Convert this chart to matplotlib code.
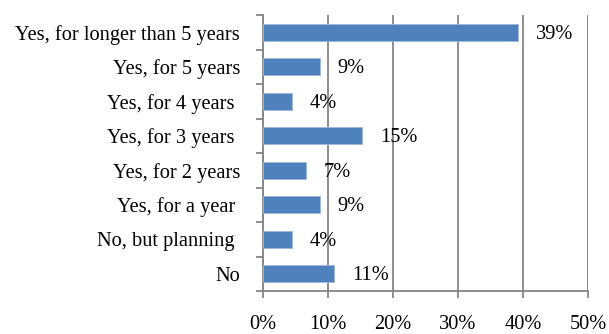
import matplotlib
matplotlib.use("Agg")
import matplotlib.pyplot as plt
from matplotlib.ticker import MultipleLocator, FuncFormatter, FixedLocator
import numpy as np

categories = [
    "Yes, for longer than 5 years",
    "Yes, for 5 years",
    "Yes, for 4 years ",
    "Yes, for 3 years ",
    "Yes, for 2 years",
    "Yes, for a year ",
    "No, but planning ",
    "No",
]
shares = [39.2, 8.7, 4.4, 15.3, 6.6, 8.7, 4.4, 10.9]

plt.rcParams["font.family"] = ["Liberation Serif", "DejaVu Serif"]
FS = 14.7

fig = plt.figure(figsize=(6.09, 3.34), dpi=100)
ax = fig.add_axes([263 / 609, 1 - 291 / 334, 325 / 609, 276 / 334])

n = len(categories)
y = np.arange(n)[::-1]
bar_color = "#4F81BD"
ax.barh(y, shares, height=0.5, color=bar_color, edgecolor="#9DB9DD", linewidth=0.6, zorder=3)

for yi, v in zip(y, shares):
    ax.annotate(f"{v:.0f}%", xy=(v, yi), xytext=(13, -1.5), textcoords="offset points",
                ha="left", va="center", fontsize=FS, color="black", zorder=4)

ax.set_xlim(0, 50)
ax.set_ylim(-0.5, n - 0.5)
ax.xaxis.set_major_locator(MultipleLocator(10))
ax.xaxis.set_major_formatter(FuncFormatter(lambda v, p: f"{v:.0f}%"))

ax.set_yticks(y)
ax.set_yticklabels(categories)
ax.yaxis.set_minor_locator(FixedLocator(np.arange(-0.5, n, 1.0)))
ax.tick_params(axis="y", which="major", length=0, pad=16.5, labelsize=FS)
ax.tick_params(axis="y", which="minor", length=5, width=1.3, color="#868686")
ax.tick_params(axis="x", which="major", length=5, width=1.3, color="#868686",
               pad=12, labelsize=FS)

ax.grid(axis="x", color="#868686", linewidth=1.3, zorder=0)
for s in ["top", "right"]:
    ax.spines[s].set_visible(False)
for s in ["left", "bottom"]:
    ax.spines[s].set_color("#868686")
    ax.spines[s].set_linewidth(1.3)

fig.savefig("out.png", dpi=100)
